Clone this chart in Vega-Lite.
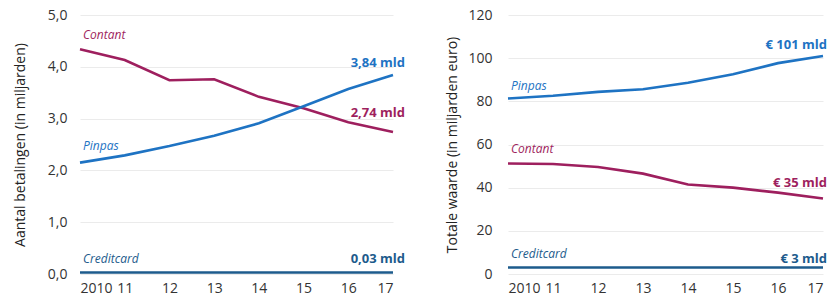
{
  "$schema": "https://vega.github.io/schema/vega-lite/v6.json",
  "padding": {"top": 8, "left": 13, "right": 4, "bottom": 0},
  "spacing": 40,
  "background": "white",
  "config": {
    "view": {"stroke": null},
    "font": "Open Sans",
    "axis": {
      "labelFont": "Open Sans", "labelFontSize": 14, "labelColor": "#333",
      "titleFont": "Open Sans", "titleFontSize": 14, "titleFontWeight": "normal", "titleColor": "#222",
      "gridColor": "#ebebeb", "domain": false, "ticks": false
    }
  },
  "datasets": {
    "aantal": [
      {"year": 2010, "series": "Contant", "value": 4.34},
      {"year": 2011, "series": "Contant", "value": 4.13},
      {"year": 2012, "series": "Contant", "value": 3.74},
      {"year": 2013, "series": "Contant", "value": 3.76},
      {"year": 2014, "series": "Contant", "value": 3.42},
      {"year": 2015, "series": "Contant", "value": 3.2},
      {"year": 2016, "series": "Contant", "value": 2.93},
      {"year": 2017, "series": "Contant", "value": 2.74},
      {"year": 2010, "series": "Pinpas", "value": 2.15},
      {"year": 2011, "series": "Pinpas", "value": 2.29},
      {"year": 2012, "series": "Pinpas", "value": 2.47},
      {"year": 2013, "series": "Pinpas", "value": 2.67},
      {"year": 2014, "series": "Pinpas", "value": 2.91},
      {"year": 2015, "series": "Pinpas", "value": 3.24},
      {"year": 2016, "series": "Pinpas", "value": 3.57},
      {"year": 2017, "series": "Pinpas", "value": 3.84},
      {"year": 2010, "series": "Creditcard", "value": 0.03},
      {"year": 2011, "series": "Creditcard", "value": 0.03},
      {"year": 2012, "series": "Creditcard", "value": 0.03},
      {"year": 2013, "series": "Creditcard", "value": 0.03},
      {"year": 2014, "series": "Creditcard", "value": 0.03},
      {"year": 2015, "series": "Creditcard", "value": 0.03},
      {"year": 2016, "series": "Creditcard", "value": 0.03},
      {"year": 2017, "series": "Creditcard", "value": 0.03}
    ],
    "waarde": [
      {"year": 2010, "series": "Contant", "value": 51.2},
      {"year": 2011, "series": "Contant", "value": 51},
      {"year": 2012, "series": "Contant", "value": 49.6},
      {"year": 2013, "series": "Contant", "value": 46.5},
      {"year": 2014, "series": "Contant", "value": 41.5},
      {"year": 2015, "series": "Contant", "value": 40},
      {"year": 2016, "series": "Contant", "value": 37.7},
      {"year": 2017, "series": "Contant", "value": 35},
      {"year": 2010, "series": "Pinpas", "value": 81.3},
      {"year": 2011, "series": "Pinpas", "value": 82.6},
      {"year": 2012, "series": "Pinpas", "value": 84.4},
      {"year": 2013, "series": "Pinpas", "value": 85.6},
      {"year": 2014, "series": "Pinpas", "value": 88.6},
      {"year": 2015, "series": "Pinpas", "value": 92.5},
      {"year": 2016, "series": "Pinpas", "value": 97.7},
      {"year": 2017, "series": "Pinpas", "value": 101},
      {"year": 2010, "series": "Creditcard", "value": 3},
      {"year": 2011, "series": "Creditcard", "value": 3},
      {"year": 2012, "series": "Creditcard", "value": 3},
      {"year": 2013, "series": "Creditcard", "value": 3},
      {"year": 2014, "series": "Creditcard", "value": 3},
      {"year": 2015, "series": "Creditcard", "value": 3},
      {"year": 2016, "series": "Creditcard", "value": 3},
      {"year": 2017, "series": "Creditcard", "value": 3}
    ],
    "namen_a": [
      {"year": 2010, "series": "Contant", "value": 4.61, "label": "Contant"},
      {"year": 2010, "series": "Pinpas", "value": 2.48, "label": "Pinpas"},
      {"year": 2010, "series": "Creditcard", "value": 0.29, "label": "Creditcard"}
    ],
    "eind_a": [
      {"year": 2017, "series": "Pinpas", "value": 4.07, "label": "3,84 mld"},
      {"year": 2017, "series": "Contant", "value": 3.1, "label": "2,74 mld"},
      {"year": 2017, "series": "Creditcard", "value": 0.29, "label": "0,03 mld"}
    ],
    "namen_w": [
      {"year": 2010, "series": "Pinpas", "value": 87, "label": "Pinpas"},
      {"year": 2010, "series": "Contant", "value": 57.7, "label": "Contant"},
      {"year": 2010, "series": "Creditcard", "value": 9.3, "label": "Creditcard"}
    ],
    "eind_w": [
      {"year": 2017, "series": "Pinpas", "value": 106, "label": "€ 101 mld"},
      {"year": 2017, "series": "Contant", "value": 42, "label": "€ 35 mld"},
      {"year": 2017, "series": "Creditcard", "value": 7, "label": "€ 3 mld"}
    ]
  },
  "hconcat": [
    {
      "width": 313,
      "height": 259,
      "encoding": {
        "x": {"field": "year", "type": "quantitative",
              "scale": {"domain": [2010, 2017], "nice": false},
              "axis": {"title": null, "values": [2010, 2011, 2012, 2013, 2014, 2015, 2016, 2017], "format": "d",
                       "labelExpr": "datum.value == 2010 ? '2010' : substring(datum.label, 2)",
                       "grid": false, "labelPadding": 7}},
        "y": {"field": "value", "type": "quantitative",
              "scale": {"domain": [0, 5], "nice": false},
              "axis": {"title": "Aantal betalingen (in miljarden)", "values": [0, 1, 2, 3, 4, 5],
                       "labelExpr": "replace(format(datum.value, '.1f'), '.', ',')",
                       "labelPadding": 13, "titlePadding": 20}},
        "color": {"field": "series", "type": "nominal",
                  "scale": {"domain": ["Contant", "Pinpas", "Creditcard"], "range": ["#9E1F5E", "#1E73C3", "#1D5B8C"]},
                  "legend": null}
      },
      "layer": [
        {"data": {"values": [{"v": 0}]}, "mark": {"type": "rule", "color": "#b0b0b0", "strokeWidth": 2},
         "encoding": {"y": {"datum": 0}, "x": null, "color": null}},
        {"data": {"name": "aantal"}, "mark": {"type": "line", "strokeWidth": 2.6, "interpolate": "linear"},
         "encoding": {"strokeWidth": {"condition": {"test": "datum.series == 'Creditcard'", "value": 3.2}, "value": 2.6}}},
        {"data": {"name": "namen_a"}, "mark": {"type": "text", "align": "left", "dx": 3, "fontStyle": "italic", "fontSize": 12},
         "encoding": {"text": {"field": "label"}}},
        {"data": {"name": "eind_a"}, "mark": {"type": "text", "align": "right", "dx": 12, "fontWeight": "bold", "fontSize": 13},
         "encoding": {"text": {"field": "label"}}}
      ]
    },
    {
      "width": 315,
      "height": 259,
      "encoding": {
        "x": {"field": "year", "type": "quantitative",
              "scale": {"domain": [2010, 2017], "nice": false},
              "axis": {"title": null, "values": [2010, 2011, 2012, 2013, 2014, 2015, 2016, 2017], "format": "d",
                       "labelExpr": "datum.value == 2010 ? '2010' : substring(datum.label, 2)",
                       "grid": false, "labelPadding": 7}},
        "y": {"field": "value", "type": "quantitative",
              "scale": {"domain": [0, 120], "nice": false},
              "axis": {"title": "Totale waarde (in miljarden euro)", "values": [0, 20, 40, 60, 80, 100, 120],
                       "format": "d", "labelPadding": 16, "titlePadding": 8}},
        "color": {"field": "series", "type": "nominal",
                  "scale": {"domain": ["Contant", "Pinpas", "Creditcard"], "range": ["#9E1F5E", "#1E73C3", "#1D5B8C"]},
                  "legend": null}
      },
      "layer": [
        {"data": {"values": [{"v": 0}]}, "mark": {"type": "rule", "color": "#b0b0b0", "strokeWidth": 2},
         "encoding": {"y": {"datum": 0}, "x": null, "color": null}},
        {"data": {"name": "waarde"}, "mark": {"type": "line", "strokeWidth": 2.6, "interpolate": "linear"},
         "encoding": {"strokeWidth": {"condition": {"test": "datum.series == 'Creditcard'", "value": 3.2}, "value": 2.6}}},
        {"data": {"name": "namen_w"}, "mark": {"type": "text", "align": "left", "dx": 3, "fontStyle": "italic", "fontSize": 12},
         "encoding": {"text": {"field": "label"}}},
        {"data": {"name": "eind_w"}, "mark": {"type": "text", "align": "right", "dx": 4, "fontWeight": "bold", "fontSize": 13},
         "encoding": {"text": {"field": "label"}}}
      ]
    }
  ]
}
